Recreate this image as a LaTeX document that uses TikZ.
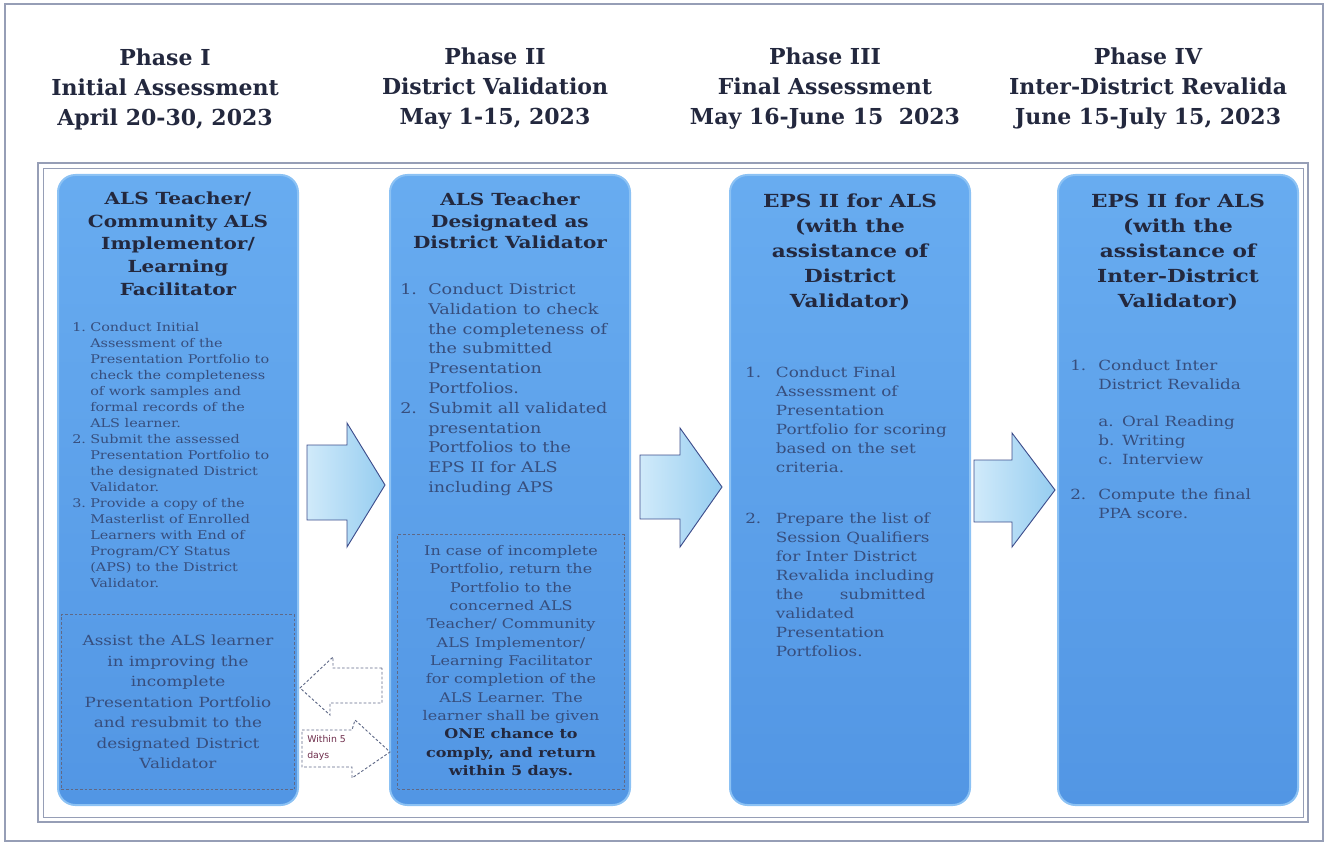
\documentclass[tikz,border=0pt]{standalone}
\usepackage{fontspec}
\setmainfont{DejaVu Serif}
\newfontfamily\boxfont{DejaVu Serif}[FakeStretch=1.2]
\newfontfamily\notefont{DejaVu Sans}

\definecolor{boxtop}{RGB}{104,172,240}
\definecolor{boxbottom}{RGB}{82,150,228}
\definecolor{boxedge}{RGB}{140,194,244}
\definecolor{titleink}{RGB}{35,40,62}
\definecolor{bodyink}{RGB}{55,78,125}
\definecolor{frameline}{RGB}{150,158,182}
\definecolor{arrowline}{RGB}{62,78,140}
\definecolor{arrowlight}{RGB}{208,234,250}
\definecolor{arrowdark}{RGB}{150,205,240}
\definecolor{dashline}{RGB}{95,105,135}
\definecolor{notered}{RGB}{110,45,75}

\newcommand{\num}[1]{\makebox[\numw][l]{#1}}
\newcommand{\ind}{\hspace*{\numw}}
\newcommand{\sub}[1]{\makebox[1.7em][l]{#1}}

\tikzset{
  colbox/.style={draw=boxedge, line width=1.5pt, top color=boxtop, bottom color=boxbottom,
    rounded corners=13pt, minimum width=180pt, minimum height=472.5pt, inner sep=0pt},
  titletext/.style={text=titleink, align=center, anchor=north, inner sep=0pt},
  bodytext/.style={text=bodyink, align=left, anchor=north west, inner sep=0pt},
  dashbox/.style={draw=dashline, dash pattern=on 2pt off 1.5pt, line width=0.6pt,
    text=bodyink, align=center, inner sep=0pt},
  header/.style={font=\bfseries\fontsize{16.5}{22.5}\selectfont, text=titleink, align=center},
  blockarrow/.style={draw=arrowline, line width=0.7pt, left color=arrowlight, right color=arrowdark},
  backarrow/.style={draw=dashline, dash pattern=on 2pt off 1.5pt, line width=0.7pt}
}

\begin{document}
\begin{tikzpicture}[x=0.75pt, y=-0.75pt]
  \useasboundingbox (0,0) rectangle (1328,845);
  % frames
  \draw[frameline, line width=0.8pt] (5,4) rectangle (1323,841);
  \draw[frameline, line width=0.8pt] (38,163) rectangle (1308,822);
  \draw[frameline, line width=0.5pt] (43,168) rectangle (1303,817);

  % phase headers
  \node[header] (h1) at (165,89) {Phase I\\Initial Assessment\\April 20-30, 2023};
  \node[header] (h2) at (495,89) {Phase II\\District Validation\\May 1-15, 2023};
  \node[header] (h3) at (825,89) {Phase III\\Final Assessment\\May 16-June 15\ \ 2023};
  \node[header] (h4) at (1148,89) {Phase IV\\Inter-District Revalida\\June 15-July 15, 2023};

  % columns
  \node[colbox] (c1) at (178,490) {};
  \node[colbox] (c2) at (510,490) {};
  \node[colbox] (c3) at (850,490) {};
  \node[colbox] (c4) at (1178,490) {};

  % column titles
  \node[titletext, font=\boxfont\bfseries\fontsize{12.5}{16.9}\selectfont] (t1) at (178,192)
    {ALS Teacher/\\Community ALS\\Implementor/\\Learning\\Facilitator};
  \node[titletext, font=\boxfont\bfseries\fontsize{12.5}{16}\selectfont] (t2) at (510,193)
    {ALS Teacher\\Designated as\\District Validator};
  \node[titletext, font=\boxfont\bfseries\fontsize{13.5}{18.75}\selectfont] (t3) at (850,194)
    {EPS II for ALS\\(with the\\assistance of\\District\\Validator)};
  \node[titletext, font=\boxfont\bfseries\fontsize{13.5}{18.75}\selectfont] (t4) at (1178,194)
    {EPS II for ALS\\(with the\\assistance of\\Inter-District\\Validator)};

  % column bodies
  \node[bodytext, font=\boxfont\fontsize{9}{12}\selectfont,
    execute at begin node={\gdef\numw{13.5pt}}] (b1) at (72,322)
    {\num{1.}Conduct Initial\\
     \ind Assessment of the\\
     \ind Presentation Portfolio to\\
     \ind check the completeness\\
     \ind of work samples and\\
     \ind formal records of the\\
     \ind ALS learner.\\
     \num{2.}Submit the assessed\\
     \ind Presentation Portfolio to\\
     \ind the designated District\\
     \ind Validator.\\
     \num{3.}Provide a copy of the\\
     \ind Masterlist of Enrolled\\
     \ind Learners with End of\\
     \ind Program/CY Status\\
     \ind (APS) to the District\\
     \ind Validator.};
  \node[bodytext, font=\boxfont\fontsize{11}{14.85}\selectfont,
    execute at begin node={\gdef\numw{21pt}}] (b2) at (400,283)
    {\num{1.}Conduct District\\
     \ind Validation to check\\
     \ind the completeness of\\
     \ind the submitted\\
     \ind Presentation\\
     \ind Portfolios.\\
     \num{2.}Submit all validated\\
     \ind presentation\\
     \ind Portfolios to the\\
     \ind EPS II for ALS\\
     \ind including APS};
  \node[bodytext, font=\boxfont\fontsize{10.5}{14.2}\selectfont,
    execute at begin node={\gdef\numw{23pt}}] (b3) at (745,367)
    {\num{1.}Conduct Final\\
     \ind Assessment of\\
     \ind Presentation\\
     \ind Portfolio for scoring\\
     \ind based on the set\\
     \ind criteria.\\[24pt]
     \num{2.}Prepare the list of\\
     \ind Session Qualifiers\\
     \ind for Inter District\\
     \ind Revalida including\\
     \ind the\hspace{2.6em}submitted\\
     \ind validated\\
     \ind Presentation\\
     \ind Portfolios.};
  \node[bodytext, font=\boxfont\fontsize{10.5}{14.2}\selectfont,
    execute at begin node={\gdef\numw{21pt}}] (b4) at (1070,360)
    {\num{1.}Conduct Inter\\
     \ind District Revalida\\[13.5pt]
     \ind\sub{a.}Oral Reading\\
     \ind\sub{b.}Writing\\
     \ind\sub{c.}Interview\\[12pt]
     \num{2.}Compute the final\\
     \ind PPA score.};

  % dashed boxes for incomplete portfolios
  \node[dashbox, minimum width=175pt, minimum height=131pt,
    font=\boxfont\fontsize{10.5}{15.4}\selectfont] (d1) at (178,702)
    {Assist the ALS learner\\in improving the\\incomplete\\Presentation Portfolio\\and resubmit to the\\designated District\\Validator};
  \node[dashbox, minimum width=170pt, minimum height=191pt,
    font=\boxfont\fontsize{10}{13.75}\selectfont] (d2) at (511,662)
    {In case of incomplete\\Portfolio, return the\\Portfolio to the\\concerned ALS\\Teacher/ Community\\ALS Implementor/\\Learning Facilitator\\for completion of the\\ALS Learner. The\\learner shall be given\\
     \textcolor{titleink}{\bfseries ONE chance to}\\\textcolor{titleink}{\bfseries comply, and return}\\\textcolor{titleink}{\bfseries within 5 days.}};

  % block arrows between phases
  \draw[blockarrow] (307,445) -- (347,445) -- (347,423) -- (385,485) -- (347,547) -- (347,520) -- (307,520) -- cycle;
  \draw[blockarrow] (640,455) -- (680,455) -- (680,428) -- (722,487) -- (680,547) -- (680,519) -- (640,519) -- cycle;
  \draw[blockarrow] (974,460) -- (1012,460) -- (1012,433) -- (1055,490) -- (1012,547) -- (1012,522) -- (974,522) -- cycle;

  % return loop within 5 days
  \draw[backarrow] (382,668) -- (333,668) -- (333,657) -- (300,688) -- (330,715) -- (330,703) -- (382,703) -- cycle;
  \draw[backarrow] (302,730) -- (352,730) -- (355,720) -- (390,752) -- (352,778) -- (352,767) -- (302,767) -- cycle;
  \node[anchor=west, align=left, inner sep=0pt, text=notered,
    font=\notefont\fontsize{7}{12.5}\selectfont] (within) at (307,748) {Within 5\\days};
\end{tikzpicture}
\end{document}
